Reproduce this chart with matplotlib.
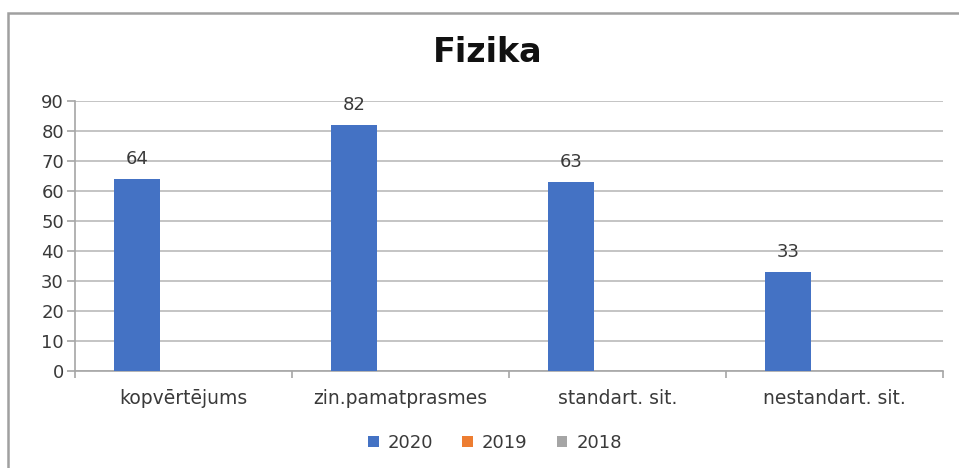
import numpy as np
import matplotlib
matplotlib.use("Agg")
import matplotlib.pyplot as plt
from matplotlib.patches import Rectangle

# === Dati ===
kategorijas = ["kopvērtējums", "zin.pamatprasmes", "standart. sit.", "nestandart. sit."]
gadi = ["2020", "2019", "2018"]
v2020 = [64, 82, 63, 33]
v2019 = [np.nan, np.nan, np.nan, np.nan]
v2018 = [np.nan, np.nan, np.nan, np.nan]
krasas = ["#4472C4", "#ED7D31", "#A5A5A5"]
y_ticks = [0, 10, 20, 30, 40, 50, 60, 70, 80, 90]

teksts = "#3a3a3a"

fig = plt.figure(figsize=(9.59, 4.68), dpi=100)
ax = fig.add_axes([75 / 959, 1 - 371 / 468, 868 / 959, 270 / 468])

x = np.arange(len(kategorijas))
w = 0.213
for i, (vals, nos, kr) in enumerate(zip([v2020, v2019, v2018], gadi, krasas)):
    bars = ax.bar(x + (i - 1) * w, vals, w, color=kr, label=nos, zorder=3)
    if i == 0:
        for b, v in zip(bars, vals):
            ax.text(b.get_x() + b.get_width() / 2, v + 6.7, f"{v}", ha="center", va="center",
                    fontsize=13, color=teksts, family="DejaVu Sans", zorder=4)

ax.set_xlim(-0.5, len(kategorijas) - 0.5)
ax.set_ylim(0, 90)
ax.set_yticks(y_ticks)
ax.set_xticks(np.arange(len(kategorijas) + 1) - 0.5, minor=True)
ax.set_xticks(x)
ax.set_xticklabels(kategorijas, fontsize=13.5, family="DejaVu Sans", color=teksts)
ax.tick_params(axis="x", which="major", length=0, pad=13)
ax.tick_params(axis="x", which="minor", length=5, color="#a6a6a6", width=1.2)
ax.tick_params(axis="y", length=6, color="#a6a6a6", width=1.2, labelsize=13, labelcolor=teksts, pad=2)

ax.grid(axis="y", color="#bfbfbf", lw=1.3, zorder=0)
for s in ["top", "right"]:
    ax.spines[s].set_visible(False)
for s in ["left", "bottom"]:
    ax.spines[s].set_color("#a6a6a6")
    ax.spines[s].set_linewidth(1.2)

fig.text(488 / 959, 1 - 53 / 468, "Fizika", ha="center", va="center", fontsize=24,
         fontweight="bold", family="DejaVu Sans", color="#111111")

leg = fig.legend(loc="center", bbox_to_anchor=(495 / 959, 1 - 443 / 468), ncol=3, frameon=False,
                 handlelength=0.6, handleheight=0.6, handletextpad=0.5, columnspacing=1.6,
                 prop={"family": "DejaVu Sans", "size": 13})
for t in leg.get_texts():
    t.set_color(teksts)

fig.patches.append(Rectangle((8 / 959, -0.05), 1.1, 1 - 13 / 468 + 0.05, transform=fig.transFigure,
                             fill=False, edgecolor="#a0a0a0", lw=1.8, zorder=10))

fig.savefig("out.png", dpi=100)
